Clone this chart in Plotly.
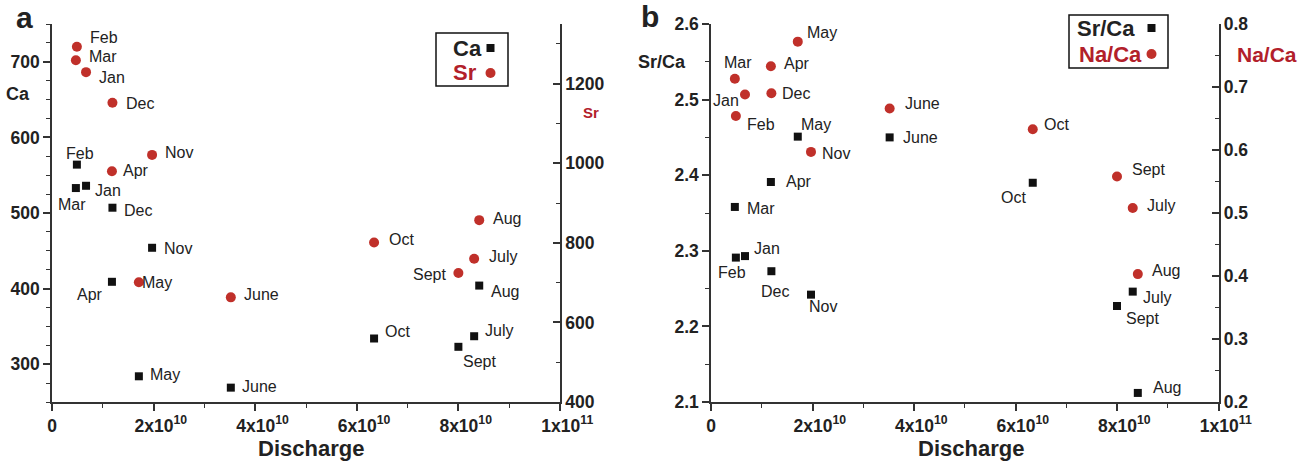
import plotly.graph_objects as go

W, H = 1310, 461

months = ["Jan", "Feb", "Mar", "Apr", "May", "June", "July", "Aug", "Sept", "Oct", "Nov", "Dec"]
discharge = [0.67e10, 0.49e10, 0.47e10, 1.18e10, 1.71e10, 3.52e10, 8.31e10, 8.41e10, 8.0e10, 6.34e10, 1.97e10, 1.19e10]
ca = [536, 564, 533, 409, 284, 269, 337, 404, 323, 334, 454, 507]
sr = [1229, 1293, 1259, 980, 701, 663, 760, 857, 724, 801, 1021, 1152]
sr_ca = [2.293, 2.291, 2.358, 2.391, 2.451, 2.450, 2.246, 2.112, 2.227, 2.390, 2.242, 2.273]
na_ca = [0.688, 0.654, 0.713, 0.733, 0.772, 0.666, 0.508, 0.403, 0.558, 0.633, 0.597, 0.690]

x_tickvals = [0, 2e10, 4e10, 6e10, 8e10, 1e11]
x_ticktext = ["0", "2x10<sup>10</sup>", "4x10<sup>10</sup>", "6x10<sup>10</sup>", "8x10<sup>10</sup>", "1x10<sup>11</sup>"]

# label placement (anchor, dx px, dy px screen-down)
lab_ca = {"Jan": ("left", 7, 5), "Feb": ("center", 3, -11), "Mar": ("center", -4, 16),
          "Apr": ("right", -7, 13), "May": ("left", 9, -2), "June": ("left", 9, -1),
          "July": ("left", 9, -6), "Aug": ("left", 10, 6), "Sept": ("left", 3, 15),
          "Oct": ("left", 9, -7), "Nov": ("left", 10, 1), "Dec": ("left", 10, 3)}
lab_sr = {"Jan": ("left", 11, 5), "Feb": ("left", 11, -9), "Mar": ("left", 11, -4),
          "Apr": ("left", 9, -1), "May": ("left", 1, 0), "June": ("left", 11, -3),
          "July": ("left", 13, -2), "Aug": ("left", 12, -2), "Sept": ("right", -10, 1),
          "Oct": ("left", 13, -3), "Nov": ("left", 11, -2), "Dec": ("left", 12, 1)}
lab_srca = {"Jan": ("left", 7, -8), "Feb": ("center", -4, 15), "Mar": ("left", 10, 2),
            "Apr": ("left", 13, 0), "May": ("left", 1, -12), "June": ("left", 11, 0),
            "July": ("left", 8, 6), "Aug": ("left", 13, -5), "Sept": ("left", 7, 13),
            "Oct": ("right", -5, 15), "Nov": ("left", -4, 12), "Dec": ("center", 4, 20)}
lab_naca = {"Jan": ("right", -4, 6), "Feb": ("left", 9, 9), "Mar": ("center", 3, -16),
            "Apr": ("left", 11, -3), "May": ("left", 7, -9), "June": ("left", 13, -5),
            "July": ("left", 12, -2), "Aug": ("left", 12, -4), "Sept": ("left", 13, -7),
            "Oct": ("left", 9, -5), "Nov": ("left", 9, 2), "Dec": ("left", 9, 0)}

FONT = "Liberation Sans, Arial, Helvetica, sans-serif"
RED = "#c0302a"
RED_T = "#b2202a"
DARK = "#222222"
AX = "#333333"


def px(x):
    return x / W


def py(y):
    return 1 - y / H


xa_dom = [px(52), px(560)]
xb_dom = [px(711), px(1218.5)]
y_dom = [py(402), py(24)]

fig = go.Figure()

sq = dict(symbol="square", size=8, color="#111111")
ci = dict(symbol="circle", size=10, color=RED)

fig.add_trace(go.Scatter(x=discharge, y=ca, mode="markers", marker=sq, xaxis="x", yaxis="y", cliponaxis=False))
fig.add_trace(go.Scatter(x=discharge, y=sr, mode="markers", marker=ci, xaxis="x", yaxis="y2", cliponaxis=False))
fig.add_trace(go.Scatter(x=discharge, y=sr_ca, mode="markers", marker=sq, xaxis="x2", yaxis="y3", cliponaxis=False))
fig.add_trace(go.Scatter(x=discharge, y=na_ca, mode="markers", marker=ci, xaxis="x2", yaxis="y4", cliponaxis=False))

annotations = []


def add_labels(vals, labs, xref, yref):
    for m, xv, yv in zip(months, discharge, vals):
        anc, dx, dy = labs[m]
        annotations.append(dict(x=xv, y=yv, xref=xref, yref=yref, text=m, showarrow=False,
                                xanchor=anc, yanchor="middle", xshift=dx, yshift=-dy,
                                font=dict(family=FONT, size=16, color=DARK)))


add_labels(ca, lab_ca, "x", "y")
add_labels(sr, lab_sr, "x", "y2")
add_labels(sr_ca, lab_srca, "x2", "y3")
add_labels(na_ca, lab_naca, "x2", "y4")

tickfont = dict(family=FONT, size=17.5, color=DARK, weight="bold")
# pad the exponent labels on the left so the mantissa sits centred on its tick
x_ticktext_padded = [t if "sup" not in t else "&nbsp;&nbsp;&nbsp;" + t for t in x_ticktext]


def yax(rng, dtick, minor_dtick, side="left", ticks="outside", **kw):
    d = dict(range=rng, domain=y_dom, showline=True, linecolor=AX, linewidth=1.5,
             ticks=ticks, ticklen=7, tickwidth=1.5, tickcolor=AX, dtick=dtick, tick0=0,
             minor=dict(dtick=minor_dtick, ticks=ticks, ticklen=4, tickwidth=1.2, tickcolor=AX),
             showgrid=False, zeroline=False, tickfont=tickfont, side=side, automargin=False)
    d.update(kw)
    return d


def xax(dom, anchor):
    return dict(range=[0, 1e11], domain=dom, anchor=anchor, showline=True, linecolor=AX, linewidth=1.5,
                ticks="outside", ticklen=7, tickwidth=1.5, tickcolor=AX,
                tickvals=x_tickvals, ticktext=x_ticktext_padded, automargin=False,
                minor=dict(dtick=1e10, tick0=0, ticks="outside", ticklen=4, tickwidth=1.2, tickcolor=AX),
                showgrid=False, zeroline=False, tickfont=tickfont)


fig.update_layout(
    width=W, height=H, margin=dict(l=0, r=0, t=0, b=0, autoexpand=False),
    paper_bgcolor="white", plot_bgcolor="white", showlegend=False,
    font=dict(family=FONT),
    xaxis=xax(xa_dom, "y"),
    xaxis2=xax(xb_dom, "y3"),
    yaxis=yax([250, 750], 100, 25, anchor="x"),
    yaxis2=yax([400, 1350], 200, 100, side="right", ticks="inside", overlaying="y", anchor="x"),
    yaxis3=yax([2.1, 2.6], 0.1, 0.05, anchor="x2"),
    yaxis4=yax([0.2, 0.8], 0.1, 0.05, side="right", ticks="inside", overlaying="y3", anchor="x2"),
)


def ptxt(text, x, y, size, color=DARK, anchor="center"):
    annotations.append(dict(x=px(x), y=py(y), xref="paper", yref="paper", text=text, showarrow=False,
                            xanchor=anchor, yanchor="middle",
                            font=dict(family=FONT, size=size, color=color, weight="bold")))


# panel letters
ptxt("a", 24, 17, 30)
ptxt("b", 650, 16, 30)
# axis titles
ptxt("Ca", 18, 94, 18)
ptxt("Sr", 591, 113, 15, RED_T)
ptxt("Sr/Ca", 662, 62, 18)
ptxt("Na/Ca", 1267, 54, 21, RED_T)
ptxt("Discharge", 311, 448, 22)
ptxt("Discharge", 971, 448, 22)
# legends
ptxt("Ca", 467, 48, 22)
ptxt("Sr", 465, 73, 22, RED_T)
ptxt("Sr/Ca", 1106, 28, 22)
ptxt("Na/Ca", 1110, 54, 22, RED_T)

shapes = [
    dict(type="rect", xref="paper", yref="paper", x0=px(436), x1=px(508), y0=py(86), y1=py(33),
         line=dict(color="#111111", width=1.5)),
    dict(type="rect", xref="paper", yref="paper", x0=px(1069), x1=px(1168), y0=py(68), y1=py(15),
         line=dict(color="#111111", width=1.5)),
]


def leg_sq(cx, cy):
    shapes.append(dict(type="rect", xref="paper", yref="paper", x0=px(cx - 4), x1=px(cx + 4),
                       y0=py(cy + 4), y1=py(cy - 4), fillcolor="#111111", line=dict(width=0)))


def leg_ci(cx, cy):
    shapes.append(dict(type="circle", xref="paper", yref="paper", x0=px(cx - 5), x1=px(cx + 5),
                       y0=py(cy + 5), y1=py(cy - 5), fillcolor=RED, line=dict(width=0)))


leg_sq(490.5, 48)
leg_ci(490.5, 73)
leg_sq(1151.5, 28)
leg_ci(1151.5, 54)

fig.update_layout(annotations=annotations, shapes=shapes)
fig.write_html("out.html")
